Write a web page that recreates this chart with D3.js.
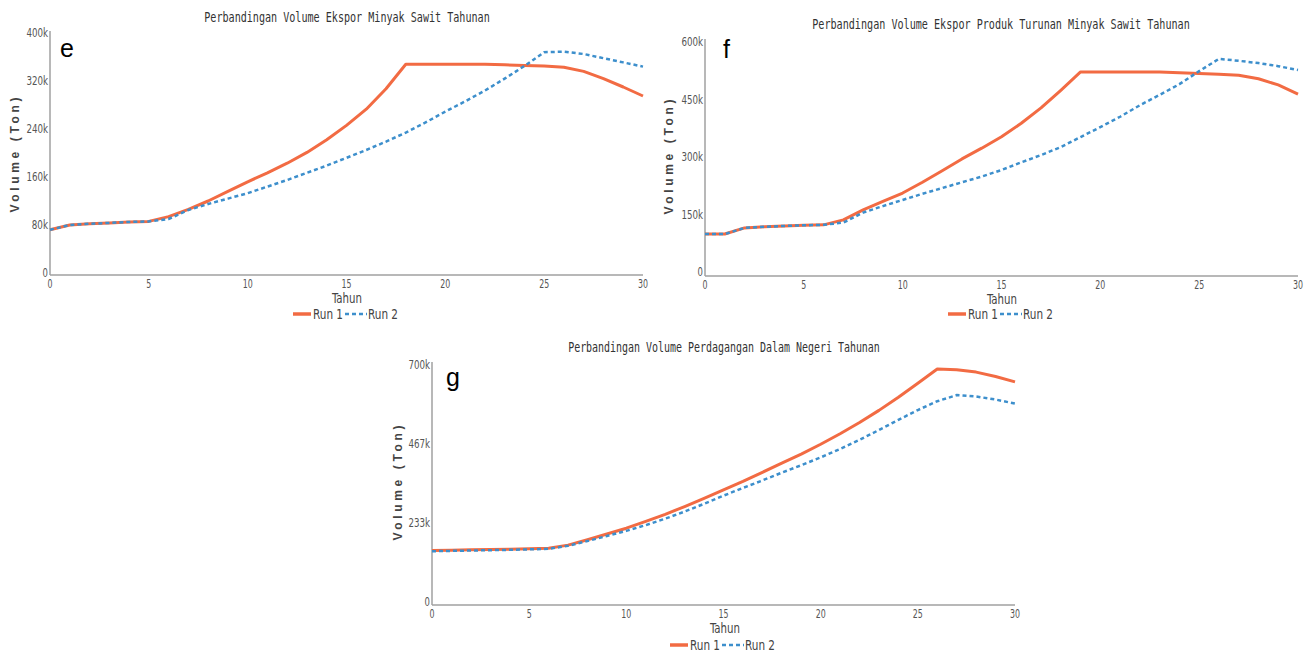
<!DOCTYPE html>
<html>
<head>
<meta charset="utf-8">
<script src="https://cdn.jsdelivr.net/npm/d3@7"></script>
<style>
  html, body { margin: 0; padding: 0; background: #fff; }
  svg { display: block; }
  .tick-lbl { font-family: "DejaVu Sans Condensed", "Liberation Sans Narrow", "DejaVu Sans", sans-serif; fill: #555; }
  .ttl { font-family: "DejaVu Sans Mono", "Liberation Mono", monospace; fill: #333; }
  .ylab { font-family: "Liberation Sans", Arial, sans-serif; font-weight: bold; fill: #444; }
  .panel { font-family: "Liberation Sans", Arial, sans-serif; fill: #000; }
</style>
</head>
<body>
<svg id="chart" width="1314" height="654"></svg>
<script>
// years on the x axis
let years = d3.range(0, 31);

// values in thousand ton
let eksporRun1 = [72, 80, 82, 83.5, 85, 86, 94, 106, 120, 136, 152, 167, 183, 201, 222, 246, 273, 307, 348, 348, 348, 348, 348, 347, 346, 345, 343, 336, 324, 310, 295];
let eksporRun2 = [72, 80, 82, 83.5, 85, 86, 90, 105, 115, 124, 133, 144, 155, 167, 179, 192, 205, 219, 234, 251, 269, 286, 304, 324, 345, 368, 369, 365, 358, 351, 344];

let turunanRun1 = [99, 99, 115, 118, 120, 122, 123, 136, 162, 184, 206, 234, 264, 295, 323, 353, 388, 428, 474, 522, 522, 522, 522, 522, 520, 518, 516, 513, 504, 488, 464];
let turunanRun2 = [99, 99, 115, 118, 120, 122, 123, 129, 155, 172, 188, 204, 219, 234, 249, 266, 286, 305, 326, 352, 378, 405, 435, 462, 490, 524, 556, 551, 545, 537, 527];

let domestikRun1 = [152, 153, 154, 155, 156, 157.5, 159, 168, 184, 201, 218, 238, 259, 282, 306, 331, 356, 383, 410, 437, 466, 497, 530, 566, 605, 646, 688, 686, 679, 666, 650];
let domestikRun2 = [150, 151, 152, 153, 154, 155.5, 157, 166, 180, 195, 210, 227, 246, 267, 290, 314, 337, 359, 382, 404, 427, 452, 479, 508, 538, 567, 593, 611, 607, 598, 586];

let xTicks = [0, 5, 10, 15, 20, 25, 30];
let eTicks = [0, 80, 160, 240, 320, 400];
let fTicks = [0, 150, 300, 450, 600];
let gTicks = [0, 233.33, 466.67, 700];

let seriesNames = ["Run 1", "Run 2"];

const colRun1 = "#f26b43";
const colRun2 = "#3d8fcc";

const svg = d3.select("#chart");

let charts = [
  {
    letter: "e", title: "Perbandingan Volume Ekspor Minyak Sawit Tahunan",
    run1: eksporRun1, run2: eksporRun2, ticks: eTicks, ymax: 400,
    x0: 50, x1: 643, yTop: 33, yBot: 273, axisTop: 31, axisBot: 275,
    titleX: 347, titleY: 22, titleW: 286,
    ylabX: 15, ylabY: 155,
    tahunX: 347, tahunY: 303,
    legX: 293, legY: 314,
    letterX: 60, letterY: 57
  },
  {
    letter: "f", title: "Perbandingan Volume Ekspor Produk Turunan Minyak Sawit Tahunan",
    run1: turunanRun1, run2: turunanRun2, ticks: fTicks, ymax: 600,
    x0: 705, x1: 1298, yTop: 42, yBot: 272, axisTop: 39, axisBot: 276,
    titleX: 1001, titleY: 29, titleW: 378,
    ylabX: 669, ylabY: 157,
    tahunX: 1002, tahunY: 304,
    legX: 948, legY: 314,
    letterX: 723, letterY: 58
  },
  {
    letter: "g", title: "Perbandingan Volume Perdagangan Dalam Negeri Tahunan",
    run1: domestikRun1, run2: domestikRun2, ticks: gTicks, ymax: 700,
    x0: 432, x1: 1015, yTop: 365, yBot: 602, axisTop: 362, axisBot: 605,
    titleX: 724, titleY: 352, titleW: 312,
    ylabX: 398, ylabY: 483,
    tahunX: 725, tahunY: 633,
    legX: 670, legY: 645,
    letterX: 446, letterY: 386
  }
];

function fmtK(v) {
  return v === 0 ? "0" : Math.round(v) + "k";
}

// squeeze text to look like the narrow font of the original
function narrow(sel, perChar) {
  sel.attr("textLength", d => String(d).length * perChar)
    .attr("lengthAdjust", "spacingAndGlyphs");
}

function drawChart(c) {
  let g = svg.append("g");

  let x = d3.scaleLinear().domain([0, 30]).range([c.x0, c.x1]);
  let y = d3.scaleLinear().domain([0, c.ymax]).range([c.yBot, c.yTop]);

  // axes lines
  g.append("line")
    .attr("x1", c.x0).attr("x2", c.x0)
    .attr("y1", c.axisTop).attr("y2", c.axisBot)
    .attr("stroke", "#a0a0a0").attr("stroke-width", 1.5);
  g.append("line")
    .attr("x1", c.x0).attr("x2", c.x1)
    .attr("y1", c.axisBot).attr("y2", c.axisBot)
    .attr("stroke", "#a0a0a0").attr("stroke-width", 1.5);

  // y tick labels
  g.selectAll(".ytick").data(c.ticks.map(fmtK)).enter().append("text")
    .attr("class", "tick-lbl")
    .attr("x", c.x0 - 2)
    .attr("y", (d, i) => y(c.ticks[i]) + 4)
    .attr("text-anchor", "end")
    .attr("font-size", 12)
    .text(d => d)
    .call(narrow, 5.4);

  // x tick labels
  g.selectAll(".xtick").data(xTicks).enter().append("text")
    .attr("class", "tick-lbl")
    .attr("x", d => x(d))
    .attr("y", c.axisBot + 13)
    .attr("text-anchor", "middle")
    .attr("font-size", 12)
    .text(d => d)
    .call(narrow, 5);

  let line = d3.line()
    .x((d, i) => x(years[i]))
    .y(d => y(d));

  g.append("path")
    .datum(c.run1)
    .attr("fill", "none")
    .attr("stroke", colRun1)
    .attr("stroke-width", 3)
    .attr("stroke-linejoin", "round")
    .attr("d", line);

  g.append("path")
    .datum(c.run2)
    .attr("fill", "none")
    .attr("stroke", colRun2)
    .attr("stroke-width", 2.5)
    .attr("stroke-dasharray", "4,3")
    .attr("d", line);

  // title, narrowed with a horizontal scale
  let t = g.append("text")
    .attr("class", "ttl")
    .attr("text-anchor", "middle")
    .attr("font-size", 14)
    .text(c.title);
  let sx = c.titleW / t.node().getComputedTextLength();
  t.attr("transform", `translate(${c.titleX},${c.titleY}) scale(${sx},1)`);

  // y label
  g.append("text")
    .attr("class", "ylab")
    .attr("transform", `translate(${c.ylabX + 4},${c.ylabY}) rotate(-90)`)
    .attr("text-anchor", "middle")
    .attr("font-size", 12)
    .attr("textLength", 115)
    .attr("lengthAdjust", "spacing")
    .text("Volume  (Ton)");

  // x label
  g.append("text")
    .attr("class", "tick-lbl")
    .attr("x", c.tahunX).attr("y", c.tahunY)
    .attr("text-anchor", "middle")
    .attr("font-size", 14)
    .style("fill", "#444")
    .attr("textLength", 30)
    .attr("lengthAdjust", "spacingAndGlyphs")
    .text("Tahun");

  // legend
  let lg = g.append("g").attr("transform", `translate(${c.legX},${c.legY})`);
  lg.append("line").attr("x1", 0).attr("x2", 18).attr("y1", 0).attr("y2", 0)
    .attr("stroke", colRun1).attr("stroke-width", 3.5);
  lg.append("text").attr("class", "tick-lbl").attr("x", 20).attr("y", 5)
    .attr("font-size", 14).style("fill", "#444")
    .attr("textLength", 30).attr("lengthAdjust", "spacingAndGlyphs")
    .text(seriesNames[0]);
  lg.append("line").attr("x1", 52).attr("x2", 74).attr("y1", 0).attr("y2", 0)
    .attr("stroke", colRun2).attr("stroke-width", 2.5).attr("stroke-dasharray", "4,3");
  lg.append("text").attr("class", "tick-lbl").attr("x", 75).attr("y", 5)
    .attr("font-size", 14).style("fill", "#444")
    .attr("textLength", 30).attr("lengthAdjust", "spacingAndGlyphs")
    .text(seriesNames[1]);

  // panel letter
  g.append("text")
    .attr("class", "panel")
    .attr("x", c.letterX).attr("y", c.letterY)
    .attr("font-size", 25)
    .text(c.letter);
}

charts.forEach(drawChart);
</script>
</body>
</html>
